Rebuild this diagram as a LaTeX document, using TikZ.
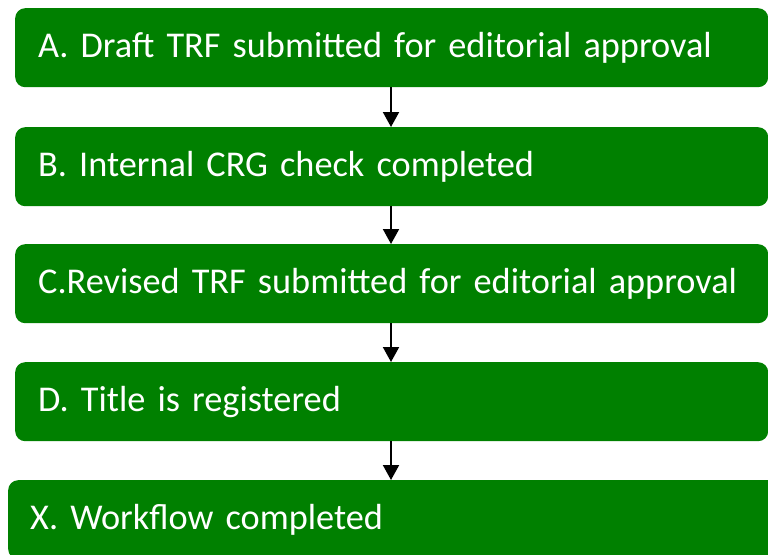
\documentclass[tikz,border=0pt]{standalone}
\usepackage{fontspec}
\setmainfont{Carlito}
\usetikzlibrary{arrows.meta}
\definecolor{boxgreen}{HTML}{008000}
\tikzset{
  stage/.style={rectangle, rounded corners=10pt, fill=boxgreen, draw=none,
    text=white, font=\fontsize{36.3}{42}\selectfont, anchor=north west,
    minimum height=79pt, text width=707pt, inner xsep=23pt, inner ysep=0pt,
    align=left},
  flow/.style={draw=black, line width=2pt,
    -{Triangle[width=16pt,length=15pt]}, shorten >=0pt}
}
\begin{document}
\begin{tikzpicture}[x=1pt,y=1pt]
  \useasboundingbox (0,0) rectangle (768,-554);
  \clip (0,0) rectangle (768,-554);
  \node[stage] (a) at (15,-8)   {A. Draft TRF submitted for editorial approval};
  \node[stage] (b) at (15,-127) {B. Internal CRG check completed};
  \node[stage] (c) at (15,-244) {C.Revised TRF submitted for editorial approval};
  \node[stage] (d) at (15,-362) {D. Title is registered};
  \node[stage, text width=735pt, inner xsep=22pt] (x) at (8,-480) {X. Workflow completed};
  \draw[flow] (a.south -| 391,0) -- (b.north -| 391,0);
  \draw[flow] (b.south -| 391,0) -- (c.north -| 391,0);
  \draw[flow] (c.south -| 391,0) -- (d.north -| 391,0);
  \draw[flow] (d.south -| 391,0) -- (x.north -| 391,0);
\end{tikzpicture}
\end{document}
